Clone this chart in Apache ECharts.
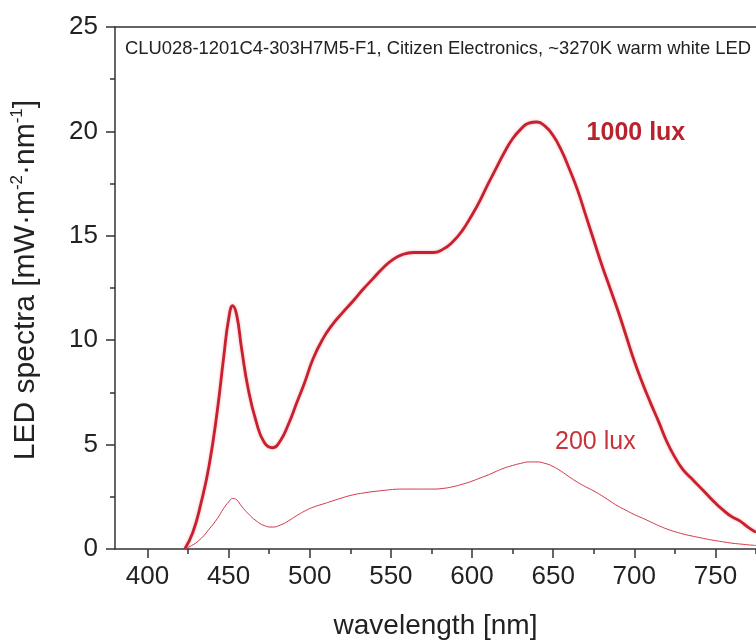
<!DOCTYPE html>
<html>
<head>
<meta charset="utf-8">
<script src="https://cdn.jsdelivr.net/npm/echarts@6/dist/echarts.min.js"></script>
<style>
  html, body { margin: 0; padding: 0; background: #fff; }
  #chart { width: 756px; height: 642px; }
</style>
</head>
<body>
<div id="chart"></div>
<script>
// wavelength grid (nm)
const wavelength = [423, 428, 433, 438, 443, 447, 450, 452.5, 455, 458, 462, 467, 472, 477, 482, 487, 492, 497,
  502, 508, 514, 520, 527, 533, 539, 545, 551, 557, 564, 570, 576, 582, 588, 594, 600, 605, 610, 615, 620, 625,
  630, 635, 640, 645, 650, 655, 660, 665, 670, 675, 680, 685, 690, 695, 700, 705, 710, 715, 720, 725, 730, 735,
  740, 745, 750, 755, 760, 765, 770, 775];
// spectra at 1000 lux (mW m^-2 nm^-1)
const lux1000 = [0, 0.8, 2.2, 4.0, 6.6, 9.2, 11.0, 11.65, 11.2, 9.6, 7.7, 6.1, 5.1, 4.85, 5.2, 6.0, 7.0, 8.0,
  9.1, 10.05, 10.75, 11.3, 11.9, 12.45, 12.95, 13.45, 13.85, 14.1, 14.2, 14.2, 14.2, 14.35, 14.7, 15.25, 16.0, 16.7,
  17.5, 18.25, 19.0, 19.65, 20.1, 20.4, 20.45, 20.25, 19.8, 19.1, 18.2, 17.2, 16.0, 14.8, 13.6, 12.5, 11.4, 10.2,
  9.0, 7.95, 7.0, 6.1, 5.15, 4.4, 3.8, 3.4, 3.0, 2.6, 2.2, 1.85, 1.55, 1.35, 1.05, 0.8];
// spectra at 200 lux
const lux200 = [0, 0.2, 0.5, 0.95, 1.45, 1.95, 2.25, 2.42, 2.35, 2.05, 1.7, 1.35, 1.12, 1.05, 1.15, 1.35, 1.6, 1.82,
  2.0, 2.15, 2.3, 2.45, 2.6, 2.68, 2.75, 2.8, 2.85, 2.87, 2.87, 2.87, 2.87, 2.9, 2.98, 3.1, 3.25, 3.4,
  3.55, 3.72, 3.88, 4.0, 4.1, 4.17, 4.17, 4.1, 3.95, 3.72, 3.45, 3.2, 2.98, 2.78, 2.55, 2.3, 2.05, 1.85,
  1.65, 1.48, 1.3, 1.12, 0.96, 0.83, 0.72, 0.63, 0.55, 0.47, 0.4, 0.34, 0.28, 0.24, 0.2, 0.17];
const majorTicksX = [400, 450, 500, 550, 600, 650, 700, 750];
const minorTicksX = [425, 475, 525, 575, 625, 675, 725, 775];
const chartTitle = 'CLU028-1201C4-303H7M5-F1, Citizen Electronics, ~3270K warm white LED';

const toPairs = (ys) => wavelength.map((x, i) => [x, ys[i]]);

let myChart = echarts.init(document.getElementById('chart'));
const axisColor = '#333';
const font = 'Liberation Sans, Arial, sans-serif';

let options = {
  animation: false,
  backgroundColor: '#fff',
  textStyle: { fontFamily: font },
  grid: { left: 115, right: 0, top: 27, bottom: 93, outerBoundsMode: 'none' },
  graphic: [{
    type: 'text',
    left: 125,
    top: 40,
    style: { text: chartTitle, fontSize: 18.4, fill: '#222', fontFamily: font }
  }],
  xAxis: [{
    type: 'value',
    min: 380,
    max: 775,
    name: 'wavelength [nm]',
    nameLocation: 'middle',
    nameGap: 63,
    nameTextStyle: { fontSize: 28, color: '#222' },
    axisLine: { show: true, lineStyle: { color: axisColor, width: 1.5 } },
    axisTick: { show: true, length: 9, customValues: majorTicksX, lineStyle: { color: axisColor, width: 1.5 } },
    axisLabel: { customValues: majorTicksX, fontSize: 26, color: '#222', margin: 15 },
    splitLine: { show: false }
  }, {
    type: 'value',
    min: 380,
    max: 775,
    position: 'bottom',
    axisLine: { show: false },
    axisTick: { show: true, length: 5, customValues: minorTicksX, lineStyle: { color: axisColor, width: 1.5 } },
    axisLabel: { show: false },
    splitLine: { show: false }
  }, {
    type: 'value',
    min: 380,
    max: 775,
    position: 'top',
    axisLine: { show: true, lineStyle: { color: axisColor, width: 1.5 } },
    axisTick: { show: false },
    axisLabel: { show: false },
    splitLine: { show: false }
  }],
  yAxis: {
    type: 'value',
    min: 0,
    max: 25,
    interval: 5,
    name: '{a|LED spectra [mW·m}{s|-2}{a|·nm}{s|-1}{a|]}',
    nameLocation: 'middle',
    nameGap: 72,
    nameRotate: 90,
    nameTextStyle: {
      color: '#222',
      padding: [0, 0, 0, 16],
      rich: {
        a: { fontSize: 30, color: '#222', lineHeight: 34, fontFamily: font },
        s: { fontSize: 17, color: '#222', lineHeight: 34, verticalAlign: 'top', fontFamily: font }
      }
    },
    axisLine: { show: true, lineStyle: { color: axisColor, width: 1.5 } },
    axisTick: { show: true, length: 9, lineStyle: { color: axisColor, width: 1.5 } },
    minorTick: { show: true, splitNumber: 2, length: 5, lineStyle: { color: axisColor, width: 1.5 } },
    axisLabel: { fontSize: 26, color: '#222', margin: 17 },
    splitLine: { show: false }
  },
  series: [{
    name: '1000 lux',
    type: 'line',
    smooth: 0.5,
    symbol: 'none',
    data: toPairs(lux1000),
    lineStyle: { color: '#c8202e', width: 2.8, shadowColor: 'rgba(200,32,46,0.35)', shadowBlur: 3 },
    markPoint: {
      symbol: 'circle',
      symbolSize: 0,
      data: [{ coord: [701, 19.9] }],
      label: { show: true, formatter: '1000 lux', fontSize: 25, fontWeight: 'bold', color: '#b8242e', position: 'inside' }
    }
  }, {
    name: '200 lux',
    type: 'line',
    smooth: 0.5,
    symbol: 'none',
    data: toPairs(lux200),
    lineStyle: { color: '#d03848', width: 1 },
    markPoint: {
      symbol: 'circle',
      symbolSize: 0,
      data: [{ coord: [676, 5.1] }],
      label: { show: true, formatter: '200 lux', fontSize: 25, color: '#c8333b', position: 'inside' }
    }
  }]
};
myChart.setOption(options);
window.addEventListener('resize', () => { myChart.resize(); });
</script>
</body>
</html>
